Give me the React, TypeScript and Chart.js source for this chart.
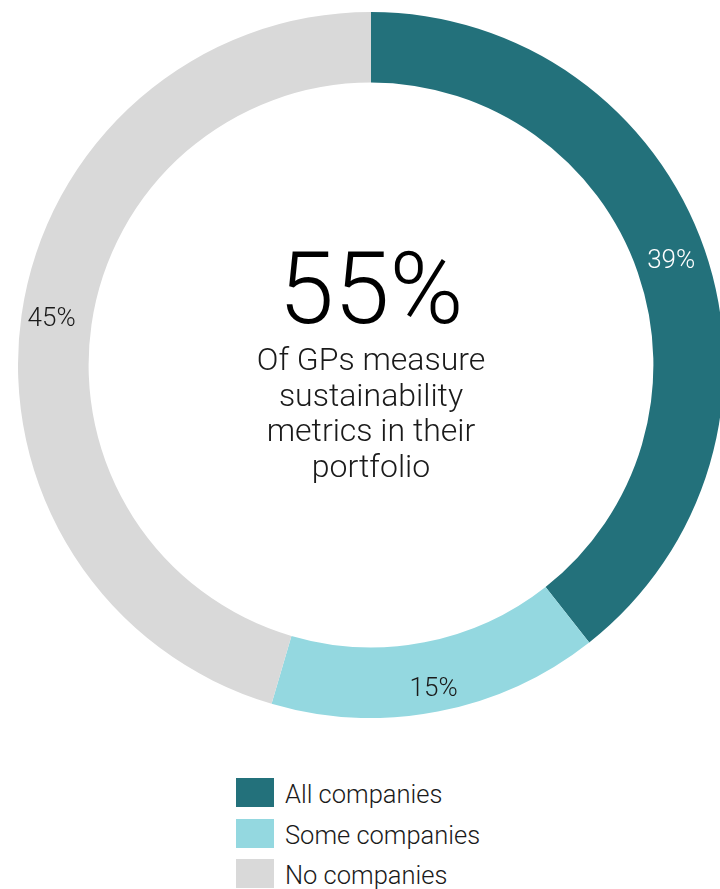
import React, { useEffect, useRef } from "react";
import { Chart, registerables } from "chart.js";

Chart.register(...registerables);

const categories = ["All companies", "Some companies", "No companies"];
const values = [39, 15, 45];
const colors = ["#23717b", "#94d8e0", "#d9d9d9"];
const labelColors = ["#ffffff", "#1a1a1a", "#1a1a1a"];
const labelRadialShift = [0, 13, 5];
const centerValue = "55%";
const centerLines = ["Of GPs measure", "sustainability", "metrics in their", "portfolio"];

const FONT = "Roboto, 'Liberation Sans', Arial, sans-serif";

const labelPlugin = {
  id: "arcLabels",
  afterDatasetsDraw(chart: any) {
    const { ctx } = chart;
    const meta = chart.getDatasetMeta(0);
    ctx.save();
    ctx.font = `300 26px ${FONT}`;
    ctx.textAlign = "center";
    ctx.textBaseline = "middle";
    meta.data.forEach((arc: any, i: number) => {
      const mid = (arc.startAngle + arc.endAngle) / 2;
      const r = (arc.innerRadius + arc.outerRadius) / 2 + labelRadialShift[i];
      const x = arc.x + Math.cos(mid) * r;
      const y = arc.y + Math.sin(mid) * r;
      ctx.fillStyle = labelColors[i];
      ctx.fillText(values[i] + "%", x, y);
    });
    const a = meta.data[0];
    const cx = a.x;
    const cy = a.y;
    ctx.fillStyle = "#000000";
    ctx.font = `300 100px ${FONT}`;
    ctx.fillText(centerValue, cx, cy - 67);
    ctx.fillStyle = "#1a1a1a";
    ctx.font = `300 32px ${FONT}`;
    centerLines.forEach((l, i) => {
      ctx.fillText(l, cx, cy - 3 + i * 35.5);
    });
    ctx.restore();
  },
};

export default function App() {
  const ref = useRef<HTMLCanvasElement>(null);
  useEffect(() => {
    if (!ref.current) return;
    const chart = new Chart(ref.current, {
      type: "doughnut",
      data: {
        labels: categories,
        datasets: [
          {
            data: values,
            backgroundColor: colors,
            borderWidth: 0,
          },
        ],
      },
      options: {
        animation: false,
        responsive: false,
        cutout: "80%",
        layout: { padding: 0 },
        plugins: {
          legend: { display: false },
          tooltip: { enabled: false },
        },
      },
      plugins: [labelPlugin],
    });
    return () => chart.destroy();
  }, []);

  return (
    <div
      style={{
        position: "absolute",
        left: 0,
        top: 0,
        width: 720,
        height: 889,
        overflow: "hidden",
        background: "#ffffff",
      }}
    >
      <canvas
        ref={ref}
        width={706}
        height={706}
        style={{ position: "absolute", left: 18, top: 12, width: 706, height: 706 }}
      />
      <div style={{ position: "absolute", left: 236, top: 778 }}>
        {categories.map((c, i) => (
          <div
            key={c}
            style={{ display: "flex", alignItems: "center", height: 29, marginBottom: 11.5 }}
          >
            <div style={{ width: 38, height: 29, background: colors[i] }} />
            <span
              style={{
                marginLeft: 11,
                fontFamily: FONT,
                fontWeight: 300,
                fontSize: 25.5,
                color: "#1a1a1a",
                lineHeight: "29px",
                position: "relative",
                top: 2,
              }}
            >
              {c}
            </span>
          </div>
        ))}
      </div>
    </div>
  );
}
